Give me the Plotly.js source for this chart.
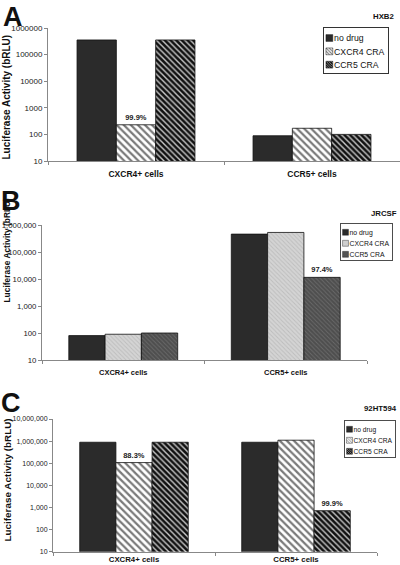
<!DOCTYPE html>
<html>
<head>
<meta charset="utf-8">
<script src="https://cdn.plot.ly/plotly-3.0.1.min.js"></script>
<style>html,body{margin:0;padding:0;background:#fff;}#chart{width:400px;height:565px;}</style>
</head>
<body>
<div id="chart"></div>
<script>
// ---- data ----
const categories = ["CXCR4+ cells", "CCR5+ cells"];
const seriesNames = ["no drug", "CXCR4 CRA", "CCR5 CRA"];

// Panel A: HXB2
const hxb2NoDrug = [355000, 89];
const hxb2CXCR4 = [230, 170];
const hxb2CCR5 = [355000, 100];
const hxb2Labels = [["", ""], ["99.9%", ""], ["", ""]];

// Panel B: JRCSF
const jrcsfNoDrug = [80, 460000];
const jrcsfCXCR4 = [90, 530000];
const jrcsfCCR5 = [100, 11500];
const jrcsfLabels = [["", ""], ["", ""], ["", "97.4%"]];

// Panel C: 92HT594
const ht594NoDrug = [890000, 890000];
const ht594CXCR4 = [107000, 1100000];
const ht594CCR5 = [890000, 716];
const ht594Labels = [["", ""], ["88.3%", ""], ["", "99.9%"]];

// tick labels
const tickValsA = [10, 100, 1000, 10000, 100000, 1000000];
const tickTextA = ["10", "100", "1000", "10000", "100000", "1000000"];
const tickValsB = [10, 100, 1000, 10000, 100000, 1000000];
const tickTextB = ["10", "100", "1,000", "10,000", "100,000", "1,000,000"];
const tickValsC = [10, 100, 1000, 10000, 100000, 1000000, 10000000];
const tickTextC = ["10", "100", "1,000", "10,000", "100,000", "1,000,000", "10,000,000"];

const panelTitles = ["HXB2", "JRCSF", "92HT594"];
const panelLetters = ["A", "B", "C"];
const yTitle = "Luciferase Activity (bRLU)";

// ---- styles ----
const FONT = "Liberation Sans, Arial, sans-serif";
const lineStyle = {color: "#111", width: 0.8};
const stylesAC = [
  {color: "#2b2b2b", line: lineStyle},
  {color: "#ffffff", line: lineStyle, pattern: {shape: "\\", fgcolor: "#7a7a7a", bgcolor: "#ffffff", size: 5, solidity: 0.45}},
  {color: "#111111", line: lineStyle, pattern: {shape: "\\", fgcolor: "#c8c8c8", bgcolor: "#111111", size: 4, solidity: 0.35}}
];
const stylesB = [
  {color: "#2b2b2b", line: lineStyle},
  {color: "#d4d4d4", line: lineStyle, pattern: {shape: "\\", fgcolor: "#bdbdbd", bgcolor: "#d4d4d4", size: 3, solidity: 0.3}},
  {color: "#4e4e4e", line: lineStyle, pattern: {shape: "\\", fgcolor: "#6a6a6a", bgcolor: "#4e4e4e", size: 3, solidity: 0.3}}
];

function makeTraces(vals, labels, styles, xa, ya, legend) {
  return vals.map((v, i) => ({
    type: "bar",
    x: categories,
    y: v,
    name: seriesNames[i],
    xaxis: xa, yaxis: ya,
    legend: legend,
    marker: styles[i],
    text: labels[i],
    textposition: "outside",
    cliponaxis: false,
    textfont: {family: FONT, size: 7.5, color: "#222", weight: "bold"},
    hoverinfo: "skip"
  }));
}

const data = []
  .concat(makeTraces([hxb2NoDrug, hxb2CXCR4, hxb2CCR5], hxb2Labels, stylesAC, "x", "y", "legend"))
  .concat(makeTraces([jrcsfNoDrug, jrcsfCXCR4, jrcsfCCR5], jrcsfLabels, stylesB, "x2", "y2", "legend2"))
  .concat(makeTraces([ht594NoDrug, ht594CXCR4, ht594CCR5], ht594Labels, stylesAC, "x3", "y3", "legend3"));

const H = 565, W = 400;
const py = p => 1 - p / H;
const px = p => p / W;

function xAxis(d, anchor, fs, standoff) {
  return {
    domain: d, anchor: anchor, type: "category",
    showline: true, linecolor: "#888", linewidth: 1,
    ticks: "outside", tickson: "boundaries", ticklen: 3, tickcolor: "#888",
    ticklabelstandoff: standoff,
    tickfont: {family: FONT, size: fs, color: "#111", weight: "bold"},
    showgrid: false, zeroline: false, fixedrange: true
  };
}
function yAxis(d, anchor, range, tv, tt, fs) {
  return {
    domain: d, anchor: anchor, type: "log", range: range,
    tickvals: tv, ticktext: tt,
    showline: true, linecolor: "#888", linewidth: 1,
    ticks: "outside", ticklen: 3, tickcolor: "#888",
    tickfont: {family: FONT, size: fs, color: "#222"},
    showgrid: false, zeroline: false, fixedrange: true
  };
}
function legendBox(x, y, fs) {
  return {
    x: x, y: y, xanchor: "left", yanchor: "top", xref: "paper", yref: "paper",
    bgcolor: "#fff", bordercolor: "#333", borderwidth: 1.5,
    font: {family: FONT, size: fs, color: "#111"},
    tracegroupgap: 0, itemwidth: 30
  };
}
function label(text, x, y, xanchor, yanchor, size, angle) {
  return {text: text, x: x, y: y, xref: "paper", yref: "paper", xanchor: xanchor, yanchor: yanchor,
    textangle: angle || 0, showarrow: false, font: {family: FONT, size: size, color: "#111", weight: "bold"}};
}

const layout = {
  width: W, height: H,
  margin: {l: 0, r: 0, t: 0, b: 0, autoexpand: false},
  paper_bgcolor: "#fff", plot_bgcolor: "#fff",
  barmode: "group", bargap: 0.33, bargroupgap: 0,
  font: {family: FONT},
  xaxis: xAxis([px(48), px(400)], "y", 8.5, 5),
  yaxis: yAxis([py(161), py(28)], "x", [1, 6], tickValsA, tickTextA, 8),
  xaxis2: xAxis([px(42), px(367)], "y2", 7.5, 5),
  yaxis2: yAxis([py(360), py(225)], "x2", [1, 6], tickValsB, tickTextB, 7.8),
  xaxis3: xAxis([px(53), px(377)], "y3", 7.8, 0),
  yaxis3: yAxis([py(551.7), py(419)], "x3", [1, 7], tickValsC, tickTextC, 7),
  legend: legendBox(px(323), py(27), 13),
  legend2: legendBox(px(340), py(223), 11.8),
  legend3: legendBox(px(344), py(420), 11.5),
  showlegend: true,
  annotations: [
    label(panelLetters[0], px(1), 1, "left", "top", 27),
    label(panelLetters[1], px(-1), py(184), "left", "top", 27),
    label(panelLetters[2], px(-1), py(386), "left", "top", 27),
    label(panelTitles[0], px(396), py(17), "right", "middle", 7.8),
    label(panelTitles[1], px(399), py(214), "right", "middle", 7.8),
    label(panelTitles[2], px(399), py(408), "right", "middle", 7.8),
    label(yTitle, px(6.5), py(97), "center", "middle", 10, -90),
    label(yTitle, px(6.5), py(250), "center", "middle", 8.4, -90),
    label(yTitle, px(6.5), py(480), "center", "middle", 9.9, -90)
  ]
};

// compact the native legends (symbol + text closer, smaller overall)
function tuneLegend(cls, s, textX, symX, symS) {
  const g = document.querySelector("g." + cls);
  if (!g) return;
  g.querySelectorAll("[clip-path]").forEach(el => el.removeAttribute("clip-path"));
  g.querySelectorAll("rect[class$='toggle']").forEach(r => r.remove());
  const texts = g.querySelectorAll("g.traces > text");
  texts.forEach(t => t.setAttribute("x", textX));
  g.querySelectorAll("g.legendpoints path").forEach(p => {
    p.setAttribute("transform", "translate(" + symX + ",0) scale(" + symS + ")");
  });
  const tr = g.getAttribute("transform") || "";
  const m = /translate\(\s*([-\d.]+)[ ,]+([-\d.]+)\s*\)/.exec(tr);
  const tx = m ? parseFloat(m[1]) : 0, ty = m ? parseFloat(m[2]) : 0;
  g.setAttribute("transform", "translate(" + tx + "," + ty + ") scale(" + s + ")");
  const host = document.getElementById("chart").getBoundingClientRect();
  let maxR = 0, maxB = 0;
  g.querySelectorAll("g.traces > text, g.legendpoints path").forEach(el => {
    const r = el.getBoundingClientRect();
    maxR = Math.max(maxR, r.right - host.left);
    maxB = Math.max(maxB, r.bottom - host.top);
  });
  const bg = g.querySelector("rect.bg");
  if (bg) {
    bg.setAttribute("x", 0.75);
    bg.setAttribute("y", 0.75);
    bg.setAttribute("width", (maxR - tx) / s + 5);
    bg.setAttribute("height", (maxB - ty) / s + 4);
  }
}

Plotly.newPlot("chart", data, layout, {staticPlot: true, displayModeBar: false}).then(() => {
  tuneLegend("legend", 0.67, 15, 8, 0.85);
  tuneLegend("legend2", 0.58, 15, 8, 0.85);
  tuneLegend("legend3", 0.58, 15, 8, 0.85);
});
</script>
</body>
</html>
